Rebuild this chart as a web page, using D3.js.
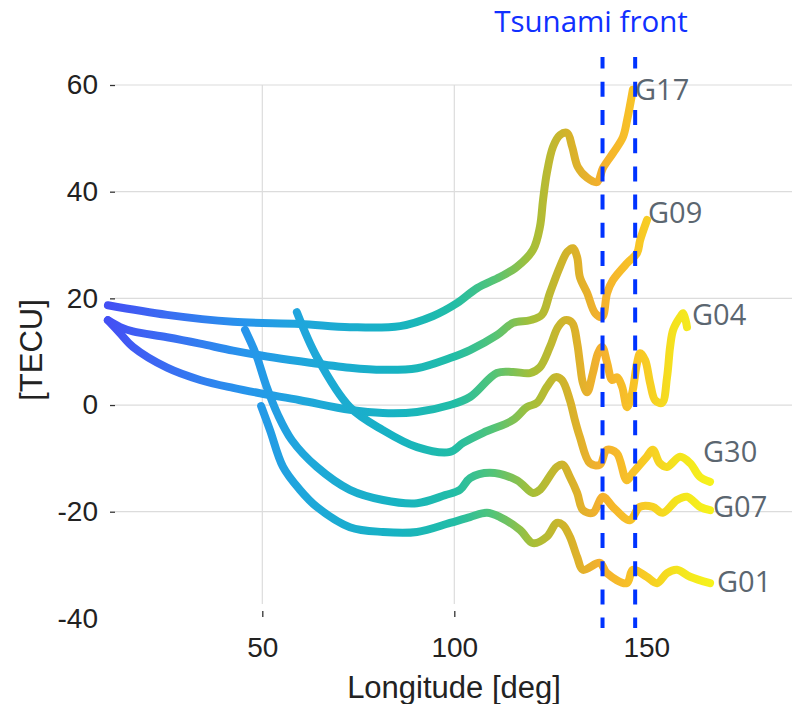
<!DOCTYPE html>
<html>
<head>
<meta charset="utf-8">
<script src="https://cdn.jsdelivr.net/npm/d3@7/dist/d3.min.js"></script>
<style>
  body { margin: 0; background: #fff; }
  svg { display: block; }
  .axis text { font-family: "Liberation Sans", Arial, sans-serif; font-size: 28px; fill: #222; }
  .axis line { stroke: #333; stroke-width: 1.3; }
  .axis-title { font-family: "Liberation Sans", Arial, sans-serif; font-size: 31px; fill: #222; }
  .sat-label { font-family: "Open Sans", sans-serif; font-size: 29px; fill: #5b6670; }
  .front-label { font-family: "Open Sans", sans-serif; font-size: 29.5px; fill: #1030ff; }
</style>
</head>
<body>
<svg id="chart" width="792" height="704"></svg>
<script>

// [longitude, TEC]
var g17 = [[9.8,18.7],[25.2,16.9],[42.4,15.6],[59.8,15.2],[72.8,14.6],[85.9,14.8],[94.5,16.7],[100.7,19.1],[105.9,21.9],[111.9,24.0],[116.3,25.9],[120.5,29.1],[122.3,33.4],[123.1,38.4],[124.1,43.5],[125.7,48.4],[127.5,50.6],[129.4,51.0],[130.7,48.4],[132.2,44.6],[134.6,42.6],[137.2,41.8],[138.7,44.4],[141.3,47.2],[143.9,50.2],[145.0,53.4],[146.5,59.1]];
var g09 = [[9.8,15.9],[13.0,14.6],[16.3,13.8],[25.2,12.7],[33.8,11.5],[42.4,10.2],[51.2,9.1],[59.8,8.2],[72.8,7.0],[81.4,6.6],[90.3,6.9],[98.9,8.8],[104.1,10.3],[111.1,13.1],[115.3,15.4],[119.7,15.9],[122.8,16.9],[124.9,21.0],[127.5,25.9],[129.4,28.7],[130.9,29.4],[132.0,27.7],[132.7,24.0],[134.6,21.0],[136.7,17.2],[138.5,16.5],[139.8,21.0],[141.3,23.4],[145.0,26.6],[147.6,28.5],[148.4,30.9],[150.2,34.7]];
var g04 = [[9.8,15.9],[12.9,13.5],[16.3,10.9],[25.2,7.0],[33.8,4.7],[42.4,3.2],[49.4,2.2],[59.8,0.9],[72.8,-0.9],[81.4,-1.5],[90.3,-1.3],[98.9,0],[104.1,1.5],[111.1,6.0],[115.3,6.2],[119.7,6.0],[122.3,7.1],[124.9,10.9],[127.0,14.6],[128.8,15.9],[130.7,15.4],[132.0,11.6],[132.7,7.9],[133.5,4.1],[134.6,2.4],[136.1,6.0],[137.4,9.7],[138.5,10.9],[139.8,7.9],[141.1,4.7],[142.4,5.2],[143.7,3.4],[145.0,-0.4],[146.3,2.2],[147.6,7.9],[148.4,9.7],[149.7,8.4],[151.0,4.1],[152.3,0.9],[154.1,0.4],[155.4,5.2],[156.2,10.9],[157.0,14.1],[158.8,16.5],[159.6,17.2],[160.6,14.6]];
var g30 = [[59.0,17.4],[64.2,9.0],[72.8,-0.4],[81.4,-4.7],[90.3,-7.9],[98.9,-8.8],[102.3,-7.1],[107.5,-5.2],[115.3,-2.8],[118.9,-0.4],[121.5,0.4],[124.1,3.4],[126.2,5.2],[128.0,4.7],[130.1,0.9],[131.4,-2.8],[132.7,-6.0],[135.3,-10.9],[137.9,-11.2],[139.7,-8.4],[142.3,-9.0],[144.9,-14.1],[146.5,-12.7],[150.1,-9.7],[151.7,-8.4],[153.5,-10.9],[155.4,-11.6],[158.8,-9.7],[161.4,-10.9],[164.0,-13.5],[166.6,-14.4]];
var g07 = [[45.5,14.1],[48.4,9.4],[51.0,3.7],[54.1,-1.9],[57.7,-6.6],[64.2,-11.6],[72.8,-15.9],[81.4,-17.8],[90.3,-18.4],[97.6,-16.9],[101.5,-15.9],[104.1,-13.7],[109.3,-12.7],[116.3,-14.1],[120.5,-16.5],[122.3,-15.9],[126.7,-11.6],[128.3,-11.2],[130.1,-13.5],[132.0,-16.5],[133.5,-19.7],[136.1,-20.2],[138.7,-17.2],[141.3,-19.1],[145.7,-21.6],[148.3,-19.1],[151.7,-19.1],[154.3,-20.2],[158.0,-17.8],[160.6,-17.2],[164.0,-19.1],[166.6,-19.7]];
var g01 = [[49.7,-0.2],[52.0,-4.7],[55.4,-11.6],[59.8,-15.9],[64.2,-19.1],[72.8,-22.9],[81.4,-23.8],[90.3,-23.8],[98.9,-22.1],[104.1,-21.0],[108.5,-20.2],[111.9,-21.0],[117.1,-23.4],[120.5,-25.9],[124.1,-24.7],[126.7,-22.1],[128.3,-22.5],[130.1,-24.7],[132.0,-28.5],[133.5,-30.9],[137.9,-29.6],[139.7,-31.5],[144.9,-33.4],[146.5,-30.9],[150.1,-32.2],[152.8,-33.4],[155.4,-31.5],[158.0,-30.9],[161.4,-32.2],[166.6,-33.4]];

var satNames = ["G17", "G09", "G04", "G30", "G07", "G01"];
var satSeries = [g17, g09, g04, g30, g07, g01];

var yTicks = [60, 40, 20, 0, -20, -40];
var xTicks = [50, 100, 150];
var frontLon = [138.6, 147.1];

// colour along longitude (parula-like)
var colorStops = [[10,"#4350f4"],[25,"#3a6cf2"],[45,"#2794ec"],[60,"#1fa6dc"],[85,"#17b3c2"],[100,"#22bda6"],[110,"#52c478"],[120,"#a5bf38"],[130,"#d6b22a"],[138,"#f4b02e"],[148,"#f8c626"],[158,"#f4e41e"],[167,"#f6f21c"]];

var svg = d3.select("#chart");
var x = d3.scaleLinear().domain([50, 100]).range([262.3, 454.3]);
var y = d3.scaleLinear().domain([-20, 60]).range([511.7, 85]);

var grad = svg.append("defs").append("linearGradient")
  .attr("id", "lonGrad")
  .attr("gradientUnits", "userSpaceOnUse")
  .attr("x1", x(10)).attr("x2", x(167)).attr("y1", 0).attr("y2", 0);
grad.selectAll("stop").data(colorStops).enter().append("stop")
  .attr("offset", d => (d[0] - 10) / (167 - 10))
  .attr("stop-color", d => d[1]);

// grid
svg.append("g").selectAll("line").data(yTicks.filter(d => d > -40)).enter().append("line")
  .attr("x1", 115).attr("x2", 792)
  .attr("y1", d => y(d)).attr("y2", d => y(d))
  .attr("stroke", "#dcdcdc").attr("stroke-width", 1.2);
svg.append("g").selectAll("line").data(xTicks.filter(d => d < 150)).enter().append("line")
  .attr("x1", d => x(d)).attr("x2", d => x(d))
  .attr("y1", 85).attr("y2", 604)
  .attr("stroke", "#dcdcdc").attr("stroke-width", 1.2);

// axes
var yAxis = svg.append("g").attr("class", "axis").attr("transform", "translate(115,0)")
  .call(d3.axisLeft(y).tickValues(yTicks).tickSize(5).tickPadding(12).tickFormat(d => String(d)));
yAxis.select(".domain").remove();
yAxis.selectAll(".tick").filter(d => d === -40).select("line").remove();

var xAxis = svg.append("g").attr("class", "axis").attr("transform", "translate(0,611)")
  .call(d3.axisBottom(x).tickValues(xTicks).tickSize(6).tickPadding(20).tickFormat(d => String(d)));
xAxis.select(".domain").remove();
xAxis.selectAll(".tick").filter(d => d === 150).select("line").remove();

svg.append("text").attr("class", "axis-title")
  .attr("transform", "translate(42,350) rotate(-90)")
  .attr("text-anchor", "middle").text("[TECU]");
svg.append("text").attr("class", "axis-title")
  .attr("x", 454).attr("y", 698)
  .attr("text-anchor", "middle").text("Longitude [deg]");

// curves
var line = d3.line().x(d => x(d[0])).y(d => y(d[1])).curve(d3.curveCatmullRom.alpha(0.5));
svg.append("g").selectAll("path").data(satSeries).enter().append("path")
  .attr("d", line)
  .attr("fill", "none")
  .attr("stroke", "url(#lonGrad)")
  .attr("stroke-width", 8)
  .attr("stroke-linecap", "round")
  .attr("stroke-linejoin", "round");

// tsunami front
svg.append("g").selectAll("line").data(frontLon).enter().append("line")
  .attr("x1", d => x(d)).attr("x2", d => x(d))
  .attr("y1", 57).attr("y2", 628)
  .attr("stroke", "#0033ff").attr("stroke-width", 4)
  .attr("stroke-dasharray", "15,13.2").attr("stroke-dashoffset", 3.4);

svg.append("text").attr("class", "front-label")
  .attr("x", 591).attr("y", 32).attr("text-anchor", "middle").text("Tsunami front");

// satellite labels, placed next to the end of each track
var labelPos = [[635, 100], [648, 223], [692, 325], [703, 462], [713, 517], [717, 592]];
svg.append("g").selectAll("text").data(satNames).enter().append("text")
  .attr("class", "sat-label")
  .attr("x", (d, i) => labelPos[i][0])
  .attr("y", (d, i) => labelPos[i][1])
  .text(d => d);

</script>
</body>
</html>
